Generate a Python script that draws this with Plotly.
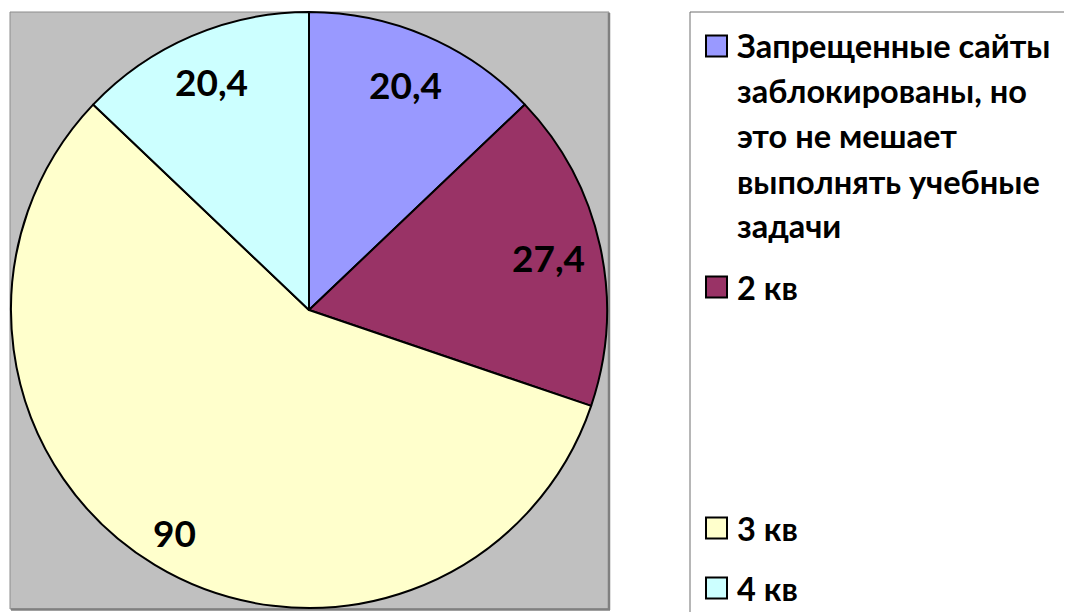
import math
import textwrap
import plotly.graph_objects as go

# ---- data ----
categories = [
    "Запрещенные сайты заблокированы, но это не мешает выполнять учебные задачи",
    "2 кв",
    "3 кв",
    "4 кв",
]
values = [20.4, 27.4, 90, 20.4]
value_labels = ["20,4", "27,4", "90", "20,4"]

# ---- style ----
colors = ["#9999FF", "#993366", "#FFFFCC", "#CCFFFF"]
label_radius = [0.82, 0.82, 0.87, 0.83]
W, H = 1072, 612          # target page size
OFF = 8                   # default body margin of the html page
FW, FH = W - OFF, H - OFF  # figure size
FONT = "Lato"

# plot area box (page pixels)
bx0, by0, bx1, by1 = 10, 12, 608, 608
cx, cy = (bx0 + bx1) / 2, (by0 + by1) / 2
R = (bx1 - bx0) / 2


def px(x):
    return (x - OFF) / FW


def py(y):
    return 1 - (y - OFF) / FH


fig = go.Figure()
fig.add_trace(go.Pie(
    labels=categories,
    values=values,
    sort=False,
    direction="clockwise",
    rotation=0,
    textinfo="none",
    hoverinfo="label+value",
    marker=dict(colors=colors, line=dict(color="#000000", width=2)),
    domain=dict(x=[px(bx0), px(bx1)], y=[py(by1), py(by0)]),
    showlegend=False,
))

shapes = []
# gray plot area with shadowed border
shapes.append(dict(type="rect", xref="paper", yref="paper", layer="below",
                   x0=px(bx0), x1=px(bx1 + 1), y0=py(by1 + 1), y1=py(by0),
                   fillcolor="#C0C0C0", line=dict(color="#8c8c8c", width=1)))
shapes.append(dict(type="line", xref="paper", yref="paper", layer="below",
                   x0=px(bx1 + 1), x1=px(bx1 + 1), y0=py(by0 + 1), y1=py(by1 + 2),
                   line=dict(color="#808080", width=2.5)))
shapes.append(dict(type="line", xref="paper", yref="paper", layer="below",
                   x0=px(bx0 + 1), x1=px(bx1 + 2), y0=py(by1 + 1.5), y1=py(by1 + 1.5),
                   line=dict(color="#808080", width=2.5)))
# legend box
shapes.append(dict(type="rect", xref="paper", yref="paper",
                   x0=px(690), x1=px(W + 20), y0=py(H + 20), y1=py(12),
                   fillcolor="rgba(0,0,0,0)", line=dict(color="#6e6e6e", width=1)))

annotations = []
# value labels positioned along each slice's mid angle
total = sum(values)
cum = 0
for v, lab, rf in zip(values, value_labels, label_radius):
    mid = (cum + v / 2) / total * 2 * math.pi
    cum += v
    lx = cx + rf * R * math.sin(mid)
    ly = cy - rf * R * math.cos(mid)
    annotations.append(dict(x=px(lx), y=py(ly), xref="paper", yref="paper",
                            text=lab, showarrow=False,
                            xanchor="center", yanchor="middle",
                            font=dict(family=FONT, size=37, color="#000000",
                                      weight="bold")))

# manual legend (Excel-like spacing)
legend_y = [46, 287, 528, 588]
line_gap = 45
for cat, col, ly in zip(categories, colors, legend_y):
    shapes.append(dict(type="rect", xref="paper", yref="paper",
                       x0=px(706), x1=px(727), y0=py(ly + 10.5), y1=py(ly - 10.5),
                       fillcolor=col, line=dict(color="#000000", width=2)))
    for i, line in enumerate(textwrap.wrap(cat, 18)):
        annotations.append(dict(x=px(735), y=py(ly + i * line_gap),
                                xref="paper", yref="paper",
                                text=line, showarrow=False,
                                xanchor="left", yanchor="middle",
                                font=dict(family=FONT, size=32.5, color="#000000",
                                          weight="bold")))

fig.update_layout(
    width=FW, height=FH,
    margin=dict(l=0, r=0, t=0, b=0),
    paper_bgcolor="#FFFFFF",
    plot_bgcolor="#FFFFFF",
    shapes=shapes,
    annotations=annotations,
    showlegend=False,
)

fig.write_html("out.html")
